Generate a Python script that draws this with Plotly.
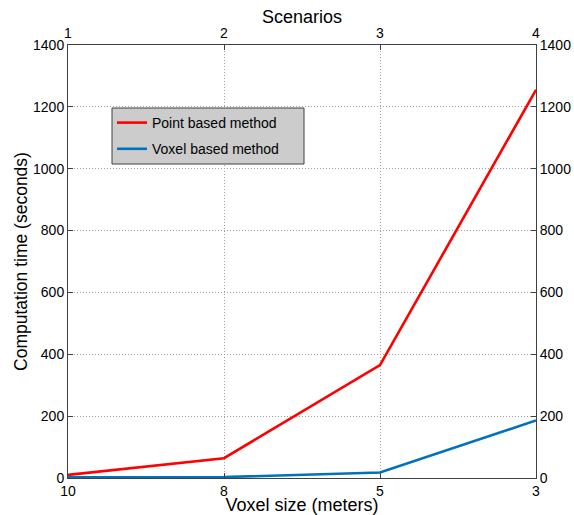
import plotly.graph_objects as go

scenarios = [1, 2, 3, 4]
voxel_labels = ["10", "8", "5", "3"]
point_based = [10, 64, 365, 1255]
voxel_based = [2, 3, 18, 186]
y_ticks = [0, 200, 400, 600, 800, 1000, 1200, 1400]

W, H = 574, 515
L, R, T, B = 68, 38, 45, 37
pw, ph = W - L - R, H - T - B


def px(x):
    return (x - L) / pw


def py(y):
    return 1 - (y - T) / ph


font = "Liberation Sans, Arial, sans-serif"
fig = go.Figure()
fig.add_trace(go.Scatter(x=scenarios, y=point_based, mode="lines", name="Point based method",
                         legendgroup="a", line=dict(color="#ff0000", width=2.6)))
fig.add_trace(go.Scatter(x=scenarios, y=voxel_based, mode="lines", name="Voxel based method",
                         legendgroup="b", line=dict(color="#0072bd", width=2.6)))
# helper invisible trace for secondary axes
fig.add_trace(go.Scatter(x=scenarios, y=point_based, xaxis="x2", yaxis="y2", mode="lines",
                         line=dict(width=0), opacity=0, showlegend=False, hoverinfo="skip"))

axcommon = dict(showline=True, linecolor="#404040", linewidth=1, ticks="inside", ticklen=5,
                tickcolor="#404040", tickfont=dict(size=14, color="#000"), zeroline=False,
                automargin=False)
grid = dict(showgrid=True, gridcolor="#a0a0a0", griddash="1px,2px", gridwidth=1)
fig.update_layout(
    width=W, height=H,
    margin=dict(l=L, r=R, t=T, b=B),
    paper_bgcolor="white", plot_bgcolor="white",
    font=dict(family=font, color="#000"),
    xaxis=dict(range=[1, 4], tickvals=scenarios, ticktext=voxel_labels,
               title=dict(text="Voxel size (meters)", font=dict(size=18), standoff=0),
               **grid, **axcommon),
    yaxis=dict(range=[0, 1400], tickvals=y_ticks,
               title=dict(text="Computation time (seconds)", font=dict(size=17.5), standoff=0),
               **grid, **axcommon),
    xaxis2=dict(range=[1, 4], tickvals=scenarios, overlaying="x", side="top", showgrid=False,
                **axcommon),
    yaxis2=dict(range=[0, 1400], tickvals=y_ticks, overlaying="y", side="right", showgrid=False,
                **axcommon),
    legend=dict(x=px(112), y=py(107), xanchor="left", yanchor="top", bgcolor="rgba(0,0,0,0)",
                borderwidth=0, font=dict(size=14), tracegroupgap=5),
    shapes=[dict(type="rect", xref="paper", yref="paper", x0=px(112), x1=px(304),
                 y0=py(164), y1=py(108), fillcolor="#cccccc",
                 line=dict(color="#404040", width=1), layer="above")],
    annotations=[dict(text="Scenarios", x=0.5, y=py(17), xref="paper", yref="paper",
                      xanchor="center", yanchor="middle", showarrow=False,
                      font=dict(size=18, color="#000"))],
    showlegend=True,
)
fig.write_html("out.html")
